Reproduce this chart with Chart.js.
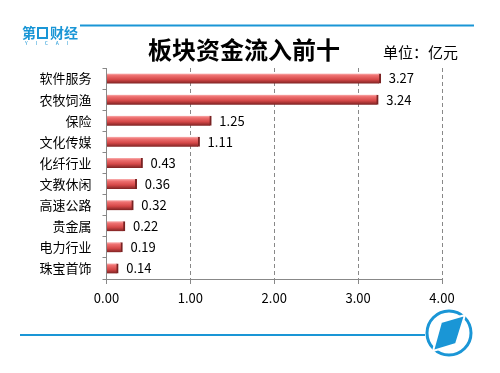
<!DOCTYPE html>
<html>
<head>
<meta charset="utf-8">
<script src="https://cdn.jsdelivr.net/npm/chart.js@4"></script>
<style>
  html, body { margin: 0; padding: 0; background: #fff; }
  #c { display: block; }
</style>
</head>
<body>
<canvas id="c" width="500" height="373"></canvas>
<script>
// データ
const categories = ["软件服务", "农牧饲渔", "保险", "文化传媒", "化纤行业", "文教休闲", "高速公路", "贵金属", "电力行业", "珠宝首饰"];
const inflowValues = [3.27, 3.24, 1.25, 1.11, 0.43, 0.36, 0.32, 0.22, 0.19, 0.14];
const xTicks = [0, 1, 2, 3, 4];

const FONT = "'Noto Sans CJK SC', 'Noto Sans', sans-serif";
const BLUE = "#1a96d6";

// 棒のグラデーション（立体風）
function barGradient(context) {
  const chart = context.chart;
  const yScale = chart.scales.y;
  if (!yScale || context.dataIndex === undefined) return "#d9534f";
  const cy = yScale.getPixelForValue(context.dataIndex);
  if (!isFinite(cy)) return "#d9534f";
  const g = chart.ctx.createLinearGradient(0, cy - 5, 0, cy + 5);
  g.addColorStop(0, "#f9b0b0");
  g.addColorStop(0.2, "#ee7070");
  g.addColorStop(0.6, "#d54848");
  g.addColorStop(1, "#7d2222");
  return g;
}

// 枠・ロゴ・タイトル
const decoPlugin = {
  id: "deco",
  beforeDraw(chart) {
    const ctx = chart.ctx;
    ctx.save();
    ctx.fillStyle = "#fff";
    ctx.fillRect(0, 0, chart.width, chart.height);

    // 上の青線
    ctx.strokeStyle = BLUE;
    ctx.lineWidth = 2;
    ctx.beginPath();
    ctx.moveTo(80, 25.5);
    ctx.lineTo(474, 25.5);
    ctx.stroke();

    // ロゴ
    ctx.fillStyle = BLUE;
    ctx.font = "bold 14px " + FONT;
    ctx.textBaseline = "middle";
    ctx.textAlign = "left";
    ctx.fillText("第", 22, 33);
    ctx.fillRect(37, 27, 11, 12);
    ctx.fillStyle = "#fff";
    ctx.fillRect(39, 29, 7, 8);
    ctx.fillStyle = BLUE;
    ctx.fillText("财经", 50, 33);
    ctx.font = "5px " + FONT;
    ctx.fillText("Y       I       C       A       I", 25, 43);

    // タイトル
    ctx.fillStyle = "#000";
    ctx.font = "bold 24px " + FONT;
    ctx.textAlign = "center";
    ctx.fillText("板块资金流入前十", 244, 50);
    ctx.font = "15px " + FONT;
    ctx.textAlign = "left";
    ctx.fillText("单位：亿元", 383, 52);

    // 下の青線と丸いロゴ
    ctx.strokeStyle = BLUE;
    ctx.lineWidth = 2;
    ctx.beginPath();
    ctx.moveTo(20, 335);
    ctx.lineTo(425, 335);
    ctx.stroke();
    ctx.lineWidth = 3;
    ctx.beginPath();
    ctx.arc(449, 333, 22, 0, Math.PI * 2);
    ctx.stroke();
    ctx.fillStyle = BLUE;
    ctx.beginPath();
    ctx.moveTo(441, 322);
    ctx.lineTo(465, 315);
    ctx.lineTo(456, 344);
    ctx.lineTo(433, 351);
    ctx.closePath();
    ctx.fill();
    ctx.strokeStyle = "#fff";
    ctx.lineWidth = 2;
    ctx.stroke();
    ctx.restore();
  }
};

// 数値ラベル
const valueLabels = {
  id: "valueLabels",
  afterDatasetsDraw(chart) {
    const ctx = chart.ctx;
    const meta = chart.getDatasetMeta(0);
    ctx.save();
    ctx.fillStyle = "#000";
    ctx.font = "13px " + FONT;
    ctx.textAlign = "left";
    ctx.textBaseline = "middle";
    meta.data.forEach((bar, i) => {
      ctx.fillText(inflowValues[i].toFixed(2), bar.x + 8, bar.y);
    });
    ctx.restore();
  }
};

new Chart(document.getElementById("c").getContext("2d"), {
  type: "bar",
  data: {
    labels: categories,
    datasets: [{
      label: "资金流入",
      data: inflowValues,
      backgroundColor: barGradient,
      borderColor: "#7a2222",
      borderWidth: { top: 0, left: 0, bottom: 0, right: 2 },
      borderSkipped: "start",
      barThickness: 10
    }]
  },
  options: {
    indexAxis: "y",
    responsive: false,
    animation: false,
    devicePixelRatio: 1,
    layout: { padding: { top: 68, right: 58, left: 0, bottom: 0 } },
    plugins: {
      legend: { display: false },
      tooltip: { enabled: false }
    },
    scales: {
      x: {
        min: 0,
        max: 4,
        afterBuildTicks(scale) {
          scale.ticks = xTicks.map(v => ({ value: v }));
        },
        afterFit(scale) { scale.height = 94; },
        ticks: {
          color: "#000",
          font: { size: 13, family: FONT },
          padding: 6,
          callback: v => Number(v).toFixed(2)
        },
        grid: {
          color: "#888",
          tickColor: "#888",
          tickLength: 5,
          drawOnChartArea: true
        },
        border: { display: true, color: "#888", dash: [4, 3] }
      },
      y: {
        afterFit(scale) { scale.width = 106.5; },
        ticks: {
          color: "#000",
          font: { size: 13, family: FONT },
          padding: 11
        },
        grid: {
          drawOnChartArea: false,
          color: "#888",
          tickLength: 4,
          offset: true
        },
        border: { color: "#888" }
      }
    }
  },
  plugins: [decoPlugin, valueLabels]
});
</script>
</body>
</html>
